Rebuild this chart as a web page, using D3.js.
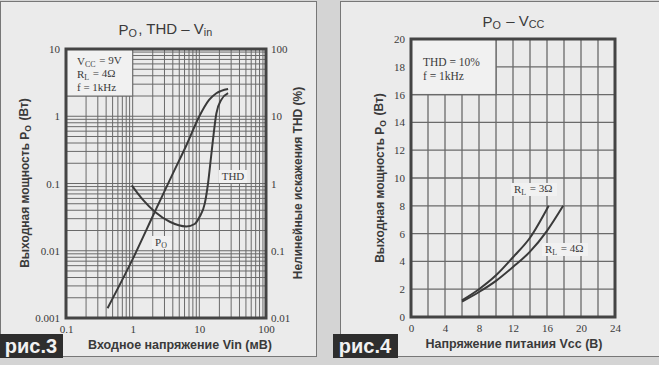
<!DOCTYPE html>
<html>
<head>
<meta charset="utf-8">
<script src="https://cdn.jsdelivr.net/npm/d3@7"></script>
<style>
  body { margin: 0; background: #d4d4d4; }
  svg { display: block; }
</style>
</head>
<body>
<div id="chart"></div>
<script>
// Данные рис.3 : Po, THD – Vin
const vinTicks = [0.1, 1, 10, 100];
const poTicks = [0.001, 0.01, 0.1, 1, 10];
const thdTicks = [0.01, 0.1, 1, 10, 100];
const poVin = [0.42, 1, 2.15, 4, 6.4, 10, 14, 18, 27];
const poVal = [0.0014, 0.0075, 0.038, 0.14, 0.37, 1.0, 1.75, 2.2, 2.55];
const thdVin = [0.97, 1.43, 2.15, 3.6, 6.4, 8.5, 10.1, 12.1, 13.5, 15, 16, 18, 21.3, 27];
const thdVal = [0.94, 0.57, 0.38, 0.27, 0.23, 0.25, 0.32, 0.51, 1.0, 2.5, 4.4, 11, 17.5, 22];

// Данные рис.4 : Po – Vcc
const vccTicks = [0, 4, 8, 12, 16, 20, 24];
const po4Ticks = [0, 2, 4, 6, 8, 10, 12, 14, 16, 18, 20];
const rl3Vcc = [6, 8, 10, 12, 14, 16.2];
const rl3Po = [1.2, 2.0, 3.0, 4.3, 5.7, 8];
const rl4Vcc = [6, 8, 10, 12, 14, 16, 17.9];
const rl4Po = [1.1, 1.8, 2.6, 3.6, 4.7, 6.2, 8];

const width = 659;
const height = 365;
const ink = "#3a3a3a";
const gridColor = "#6a6a6a";
const paper = "#ebebeb";
const serif = "'Liberation Serif', 'DejaVu Serif', serif";
const sans = "'Liberation Sans', Arial, sans-serif";

const svg = d3.select("#chart").append("svg")
  .attr("width", width)
  .attr("height", height);

// Панели
svg.append("rect").attr("x", 0).attr("y", 0).attr("width", width).attr("height", height).attr("fill", "#d4d4d4");
svg.append("rect").attr("x", 0.5).attr("y", 1.5).attr("width", 316).attr("height", 355)
  .attr("fill", paper).attr("stroke", "#777");
svg.append("rect").attr("x", 340.5).attr("y", 1.5).attr("width", 330).attr("height", 355)
  .attr("fill", paper).attr("stroke", "#777");

// текст с индексами
function richText(g, parts, attrs) {
  const t = g.append("text");
  Object.entries(attrs).forEach(([k, v]) => t.attr(k, v));
  parts.forEach(([s, sub]) => {
    if (sub) {
      t.append("tspan").attr("font-size", "0.72em").attr("dy", "0.2em").text(s);
      t.append("tspan").attr("font-size", "1em").attr("dy", "-0.2em").text("\u200a");
    } else {
      t.append("tspan").text(s);
    }
  });
  return t;
}

// ===== рис.3 =====
const x3 = d3.scaleLog().domain([0.1, 100]).range([66, 266]);
const yPo = d3.scaleLog().domain([0.001, 10]).range([318, 49]);
const yThd = d3.scaleLog().domain([0.01, 100]).range([318, 49]);

const g3 = svg.append("g");

// сетка
const xMinor = [];
[0.1, 1, 10].forEach((d) => { for (let k = 1; k <= 9; k++) xMinor.push(d * k); });
const yMinor = [];
[0.001, 0.01, 0.1, 1].forEach((d) => { for (let k = 1; k <= 9; k++) yMinor.push(d * k); });

g3.selectAll(".vx").data(xMinor).enter().append("line")
  .attr("x1", (d) => x3(d)).attr("x2", (d) => x3(d))
  .attr("y1", yPo(10)).attr("y2", yPo(0.001))
  .attr("stroke", gridColor).attr("stroke-width", 1);
g3.selectAll(".hy").data(yMinor).enter().append("line")
  .attr("x1", x3(0.1)).attr("x2", x3(100))
  .attr("y1", (d) => yPo(d)).attr("y2", (d) => yPo(d))
  .attr("stroke", gridColor).attr("stroke-width", 1);

// легенда
g3.append("rect")
  .attr("x", x3(0.1)).attr("y", yPo(10))
  .attr("width", x3(1) - x3(0.1)).attr("height", yPo(2) - yPo(10))
  .attr("fill", "#f1f1f1").attr("stroke", gridColor);
const leg3 = { "font-family": serif, "font-size": 11, fill: ink };
richText(g3, [["V"], ["CC", true], [" = 9V"]], { ...leg3, x: 77, y: 65 });
richText(g3, [["R"], ["L", true], [" = 4Ω"]], { ...leg3, x: 77, y: 78 });
richText(g3, [["f = 1kHz"]], { ...leg3, x: 77, y: 91 });

// подписи кривых
g3.append("rect").attr("x", 219).attr("y", 170).attr("width", 28).attr("height", 13).attr("fill", "#f1f1f1");
g3.append("text").attr("x", 233).attr("y", 180).attr("text-anchor", "middle")
  .attr("font-family", serif).attr("font-size", 11).attr("fill", ink).text("THD");
g3.append("rect").attr("x", 152).attr("y", 236).attr("width", 20).attr("height", 13).attr("fill", "#f1f1f1");
richText(g3, [["P"], ["O", true]], { "font-family": serif, "font-size": 11, fill: ink, x: 155, y: 246 });

// кривые
const line3Po = d3.line().x((d) => x3(d[0])).y((d) => yPo(d[1])).curve(d3.curveMonotoneX);
const line3Thd = d3.line().x((d) => x3(d[0])).y((d) => yThd(d[1])).curve(d3.curveMonotoneX);
g3.append("path").attr("d", line3Po(d3.zip(poVin, poVal)))
  .attr("fill", "none").attr("stroke", ink).attr("stroke-width", 2);
g3.append("path").attr("d", line3Thd(d3.zip(thdVin, thdVal)))
  .attr("fill", "none").attr("stroke", ink).attr("stroke-width", 2);

// рамка
g3.append("rect").attr("x", x3(0.1)).attr("y", yPo(10))
  .attr("width", x3(100) - x3(0.1)).attr("height", yPo(0.001) - yPo(10))
  .attr("fill", "none").attr("stroke", "#444").attr("stroke-width", 3);

// оси
const fmtLog = (d) => (d >= 1 ? d3.format("d")(d) : String(d));
g3.append("g").attr("transform", `translate(${x3(0.1)},0)`)
  .call(d3.axisLeft(yPo).tickValues(poTicks).tickFormat(fmtLog).tickSize(0).tickPadding(6))
  .call((g) => g.select(".domain").remove());
g3.append("g").attr("transform", `translate(${x3(100)},0)`)
  .call(d3.axisRight(yThd).tickValues(thdTicks).tickFormat(fmtLog).tickSize(0).tickPadding(5))
  .call((g) => g.select(".domain").remove());
g3.append("g").attr("transform", `translate(0,${yPo(0.001) + 3})`)
  .call(d3.axisBottom(x3).tickValues(vinTicks).tickFormat(fmtLog).tickSize(0).tickPadding(4))
  .call((g) => g.select(".domain").remove());
g3.selectAll(".tick text").attr("font-family", serif).attr("font-size", 11).attr("fill", ink);

richText(g3, [["P"], ["O", true], [", THD – V"], ["in", true]],
  { "font-family": sans, "font-size": 15, fill: ink, x: 166, y: 35, "text-anchor": "middle" });
g3.append("text").attr("x", 180).attr("y", 349).attr("text-anchor", "middle")
  .attr("font-family", sans).attr("font-weight", "bold").attr("font-size", 12.5).attr("fill", ink)
  .text("Входное напряжение Vin (мВ)");
richText(g3, [["Выходная мощность  P"], ["O", true], ["  (Вт)"]],
  { "font-family": sans, "font-weight": "bold", "font-size": 12, fill: ink, "text-anchor": "middle",
    transform: "translate(29,183) rotate(-90)" });
g3.append("text").attr("text-anchor", "middle")
  .attr("transform", "translate(302,183) rotate(-90)")
  .attr("font-family", sans).attr("font-weight", "bold").attr("font-size", 12).attr("fill", ink)
  .text("Нелинейные искажения THD (%)");

g3.append("rect").attr("x", 0).attr("y", 334).attr("width", 63).attr("height", 24).attr("fill", "#2e2e2e");
g3.append("text").attr("x", 31).attr("y", 353).attr("text-anchor", "middle")
  .attr("font-family", sans).attr("font-weight", "bold").attr("font-size", 20).attr("fill", "#f2f2f2")
  .text("рис.3");

// ===== рис.4 =====
const x4 = d3.scaleLinear().domain([0, 24]).range([411, 615]);
const y4 = d3.scaleLinear().domain([0, 20]).range([317, 39]);
const g4 = svg.append("g");

g4.selectAll(".vx").data(x4.ticks(12)).enter().append("line")
  .attr("x1", (d) => x4(d)).attr("x2", (d) => x4(d))
  .attr("y1", y4(20)).attr("y2", y4(0))
  .attr("stroke", gridColor).attr("stroke-width", 1.3);
g4.selectAll(".hy").data(po4Ticks).enter().append("line")
  .attr("x1", x4(0)).attr("x2", x4(24))
  .attr("y1", (d) => y4(d)).attr("y2", (d) => y4(d))
  .attr("stroke", gridColor).attr("stroke-width", 1.3);

g4.append("rect")
  .attr("x", x4(0)).attr("y", y4(20))
  .attr("width", x4(10) - x4(0)).attr("height", y4(16) - y4(20))
  .attr("fill", "#f1f1f1").attr("stroke", gridColor).attr("stroke-width", 1.3);
const leg4 = { "font-family": serif, "font-size": 11.5, fill: ink };
richText(g4, [["THD = 10%"]], { ...leg4, x: 423, y: 66 });
richText(g4, [["f = 1kHz"]], { ...leg4, x: 423, y: 80 });

const line4 = d3.line().x((d) => x4(d[0])).y((d) => y4(d[1])).curve(d3.curveMonotoneX);
g4.append("path").attr("d", line4(d3.zip(rl3Vcc, rl3Po)))
  .attr("fill", "none").attr("stroke", ink).attr("stroke-width", 2);
g4.append("path").attr("d", line4(d3.zip(rl4Vcc, rl4Po)))
  .attr("fill", "none").attr("stroke", ink).attr("stroke-width", 2);

g4.append("rect").attr("x", 511).attr("y", 183).attr("width", 46).attr("height", 13).attr("fill", "#f1f1f1");
richText(g4, [["R"], ["L", true], [" = 3Ω"]], { ...leg4, "font-size": 11, x: 514, y: 193 });
g4.append("rect").attr("x", 542).attr("y", 243).attr("width", 46).attr("height", 13).attr("fill", "#f1f1f1");
richText(g4, [["R"], ["L", true], [" = 4Ω"]], { ...leg4, "font-size": 11, x: 545, y: 253 });

g4.append("rect").attr("x", x4(0)).attr("y", y4(20))
  .attr("width", x4(24) - x4(0)).attr("height", y4(0) - y4(20))
  .attr("fill", "none").attr("stroke", "#444").attr("stroke-width", 3);

g4.append("g").attr("transform", `translate(${x4(0)},0)`)
  .call(d3.axisLeft(y4).tickValues(po4Ticks).tickSize(0).tickPadding(6))
  .call((g) => g.select(".domain").remove());
g4.append("g").attr("transform", `translate(0,${y4(0) + 3})`)
  .call(d3.axisBottom(x4).tickValues(vccTicks).tickSize(0).tickPadding(4))
  .call((g) => g.select(".domain").remove());
g4.selectAll(".tick text").attr("font-family", serif).attr("font-size", 11).attr("fill", ink);

richText(g4, [["P"], ["O", true], [" – V"], ["CC", true]],
  { "font-family": sans, "font-size": 15, fill: ink, x: 514, y: 27, "text-anchor": "middle" });
g4.append("text").attr("x", 514).attr("y", 348).attr("text-anchor", "middle")
  .attr("font-family", sans).attr("font-weight", "bold").attr("font-size", 12.5).attr("fill", ink)
  .text("Напряжение питания  Vcc (В)");
richText(g4, [["Выходная мощность  P"], ["O", true], [" (Вт)"]],
  { "font-family": sans, "font-weight": "bold", "font-size": 12, fill: ink, "text-anchor": "middle",
    transform: "translate(384,178) rotate(-90)" });

g4.append("rect").attr("x", 333).attr("y", 334).attr("width", 65).attr("height", 24).attr("fill", "#2e2e2e");
g4.append("text").attr("x", 365).attr("y", 353).attr("text-anchor", "middle")
  .attr("font-family", sans).attr("font-weight", "bold").attr("font-size", 20).attr("fill", "#f2f2f2")
  .text("рис.4");
</script>
</body>
</html>
